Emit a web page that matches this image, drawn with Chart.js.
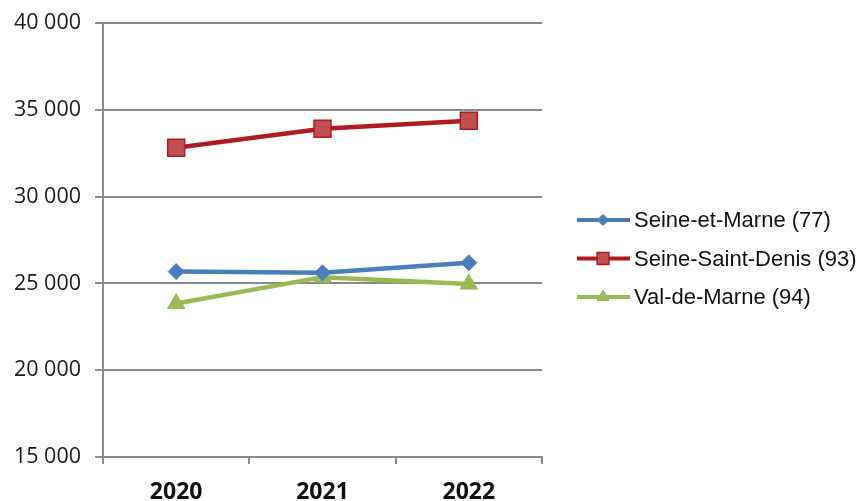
<!DOCTYPE html>
<html lang="fr">
<head>
  <meta charset="UTF-8" />
  <title>Seine-et-Marne, Seine-Saint-Denis, Val-de-Marne</title>
  <script src="https://cdn.jsdelivr.net/npm/chart.js"></script>
  <style>
    body { margin: 0; background: #fff; }
    canvas { display: block; }
  </style>
</head>
<body>
<canvas id="chart" width="859" height="501"></canvas>
<script>
  const years = ["2020", "2021", "2022"];
  const seineEtMarne = [25680, 25610, 26190];
  const seineSaintDenis = [32820, 33910, 34370];
  const valDeMarne = [23840, 25360, 24960];
  const seriesNames = ["Seine-et-Marne (77)", "Seine-Saint-Denis (93)", "Val-de-Marne (94)"];

  const gridGrey = "#8a8a8a";

  // legend drawn by hand: line sample with the marker in the middle
  const sideLegend = {
    id: "sideLegend",
    afterDraw(chart) {
      const ctx = chart.ctx;
      chart.data.datasets.forEach((ds, i) => {
        const y = 220 + i * 38.5;
        ctx.save();
        ctx.strokeStyle = ds.borderColor;
        ctx.lineWidth = 4;
        ctx.beginPath();
        ctx.moveTo(577, y);
        ctx.lineTo(630, y);
        ctx.stroke();
        ctx.fillStyle = ds.pointBackgroundColor;
        ctx.strokeStyle = ds.pointBorderColor;
        ctx.lineWidth = ds.pointBorderWidth;
        Chart.helpers.drawPoint(ctx, {
          pointStyle: ds.pointStyle,
          radius: ds.pointRadius * 0.7,
          borderWidth: ds.pointBorderWidth,
          rotation: 0
        }, 603, y);
        ctx.fillStyle = "#111";
        ctx.font = "22px 'Liberation Sans', Arial, sans-serif";
        ctx.textBaseline = "middle";
        ctx.fillText(seriesNames[i], 634, y + 1);
        ctx.restore();
      });
    }
  };

  new Chart(document.getElementById("chart").getContext("2d"), {
    type: "line",
    data: {
      labels: years,
      datasets: [
        {
          label: seriesNames[0],
          data: seineEtMarne,
          borderColor: "#4a7ebb",
          borderWidth: 4.5,
          pointStyle: "rectRot",
          pointRadius: 8,
          pointBackgroundColor: "#4a7ebb",
          pointBorderColor: "#4a7ebb",
          pointBorderWidth: 1
        },
        {
          label: seriesNames[1],
          data: seineSaintDenis,
          borderColor: "#ae1b21",
          borderWidth: 4.5,
          pointStyle: "rect",
          pointRadius: 12,
          pointBackgroundColor: "#c0504d",
          pointBorderColor: "#ae1b21",
          pointBorderWidth: 1.5
        },
        {
          label: seriesNames[2],
          data: valDeMarne,
          borderColor: "#98b954",
          borderWidth: 4.5,
          pointStyle: "triangle",
          pointRadius: 10,
          pointBackgroundColor: "#9bbb59",
          pointBorderColor: "#98b954",
          pointBorderWidth: 1
        }
      ]
    },
    options: {
      responsive: false,
      animation: false,
      layout: { autoPadding: false, padding: { top: 23, right: 317, bottom: 0, left: 0 } },
      plugins: {
        legend: { display: false },
        tooltip: { enabled: false }
      },
      scales: {
        x: {
          offset: true,
          grid: {
            offset: true,
            drawOnChartArea: false,
            drawTicks: true,
            tickLength: 7,
            color: gridGrey,
            lineWidth: 2
          },
          border: { color: gridGrey, width: 2 },
          ticks: {
            color: "#111",
            padding: 15,
            font: { family: "'Open Sans', sans-serif", size: 23, weight: "bold" }
          },
          afterFit(scale) { scale.height = 44; }
        },
        y: {
          min: 15000,
          max: 40000,
          grid: {
            color: gridGrey,
            lineWidth: 2,
            tickLength: 8
          },
          border: { color: gridGrey, width: 2 },
          ticks: {
            stepSize: 5000,
            color: "#1a1a1a",
            padding: 14,
            font: { family: "'Open Sans', sans-serif", size: 21.5 },
            callback: v => String(v).replace(/\B(?=(\d{3})+(?!\d))/g, " ")
          },
          afterFit(scale) {
            scale.width = 103;
            // label padding would otherwise push the plot top down
            scale.paddingTop = 12;
            scale.paddingBottom = 12;
          }
        }
      }
    },
    plugins: [sideLegend]
  });
</script>
</body>
</html>
